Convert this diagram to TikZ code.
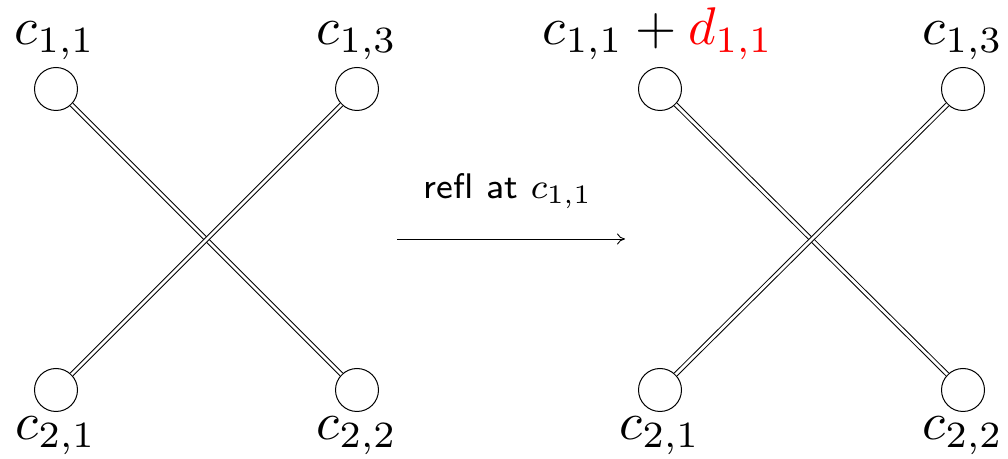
\documentclass[tikz,border=0pt]{standalone}
\usetikzlibrary{arrows.meta}
\begin{document}
\begin{tikzpicture}[x=0.5pt,y=-0.5pt,
  vert/.style={circle,draw,line width=0.5pt,minimum size=21.5pt,inner sep=0pt},
  edge/.style={double,double distance=1.4pt,line width=0.5pt},
  lab/.style={anchor=base,inner sep=0pt,font=\normalsize,scale=2.65,transform shape},
  arr/.style={-{To[length=4pt,width=5.5pt]},line width=0.45pt}]
\useasboundingbox (0,0) rectangle (1008,459);
% left
\node[vert] (a1) at (56,89) {};
\node[vert] (a3) at (357,89) {};
\node[vert] (a21) at (56,390) {};
\node[vert] (a22) at (357,390) {};
\draw[edge] (a1) -- (a22);
\draw[edge] (a3) -- (a21);
\node[lab] (la1) at (55,45) {$c_{1,1}$};
\node[lab] (la3) at (357,45) {$c_{1,3}$};
\node[lab] (la21) at (56,440) {$c_{2,1}$};
\node[lab] (la22) at (357,440) {$c_{2,2}$};
% right
\node[vert] (b1) at (660,89) {};
\node[vert] (b3) at (963,89) {};
\node[vert] (b21) at (660,390) {};
\node[vert] (b22) at (963,390) {};
\draw[edge] (b1) -- (b22);
\draw[edge] (b3) -- (b21);
\node[lab] (lb1) at (658,45) {$c_{1,1}+\color{red}d_{1,1}$};
\node[lab] (lb3) at (963,45) {$c_{1,3}$};
\node[lab] (lb21) at (660,440) {$c_{2,1}$};
\node[lab] (lb22) at (963,440) {$c_{2,2}$};
% arrow
\coordinate (s) at (397,239);
\coordinate (t) at (625,239);
\draw[arr] (s) -- (t);
\node[lab,font=\footnotesize,scale=2.22/2.65] (al) at (508,199) {\textsf{refl at} $c_{1,1}$};
\end{tikzpicture}
\end{document}
